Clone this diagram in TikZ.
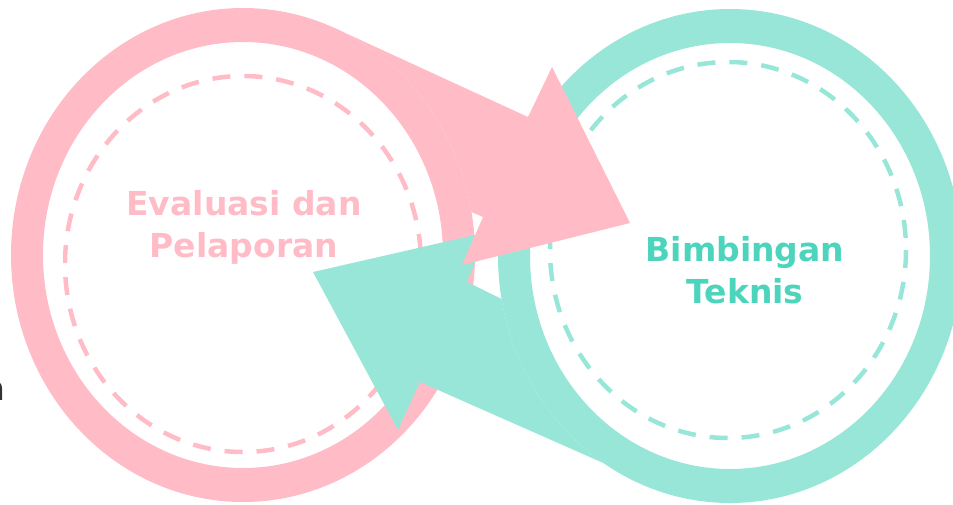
\documentclass[tikz,border=0pt]{standalone}
\usepackage{fontspec}
\setmainfont{DejaVu Sans}
\usetikzlibrary{calc}
\definecolor{ringpink}{HTML}{FFBCC6}
\definecolor{ringteal}{HTML}{98E6D8}
\definecolor{textteal}{HTML}{4DD4BC}
\definecolor{cutgray}{HTML}{333333}

\begin{document}
\begin{tikzpicture}[x=1pt, y=-1pt,
    ring/.style={fill=#1, even odd rule},
    dashring/.style={draw=#1, line width=4.5pt, dash pattern=on 18pt off 14pt},
    ringtext/.style={text=#1, font=\bfseries\fontsize{33}{42}\selectfont, align=center, inner sep=0pt}]
  \useasboundingbox (0,0) rectangle (953,504);
  \coordinate (pc) at (243,255);
  \coordinate (pd) at (243,264);
  \coordinate (tc) at (730,256);
  \coordinate (td) at (728,250);

  % rings
  \fill[ring=ringpink] (pc) ellipse[x radius=232, y radius=247] (pc) ellipse[x radius=200, y radius=213];
  \draw[dashring=ringpink] (pd) ellipse[x radius=178, y radius=188];
  \fill[ring=ringteal] (tc) ellipse[x radius=232, y radius=247] (tc) ellipse[x radius=200, y radius=213];
  \draw[dashring=ringteal] (td) ellipse[x radius=178, y radius=188];

  % arrows
  \fill[ringteal] ($(tc)+(170:232 and 247)$) -- (467,282) -- (488,232) -- (313,272) -- (398,430) -- (420,382)
    -- ($(tc)+(123:232 and 247)$) arc[start angle=123, end angle=170, x radius=232, y radius=247] -- cycle;
  \fill[ringpink] ($(pc)+(-66:232 and 247)$) -- (528,117) -- (552,67) -- (630,223) -- (462,265) -- (483,217)
    -- ($(pc)+(-10:232 and 247)$) arc[start angle=-10, end angle=-66, x radius=232, y radius=247] -- cycle;

  % labels
  \node[ringtext=ringpink] (eval) at (244,227.5) {Evaluasi dan\\Pelaporan};
  \node[ringtext=textteal] (bimtek) at (745,270.5) {Bimbingan\\Teknis};
  \node[anchor=base east, inner sep=0pt, text=cutgray, font=\fontsize{33}{42}\selectfont] (cut) at (6,400) {n};
\end{tikzpicture}
\end{document}
